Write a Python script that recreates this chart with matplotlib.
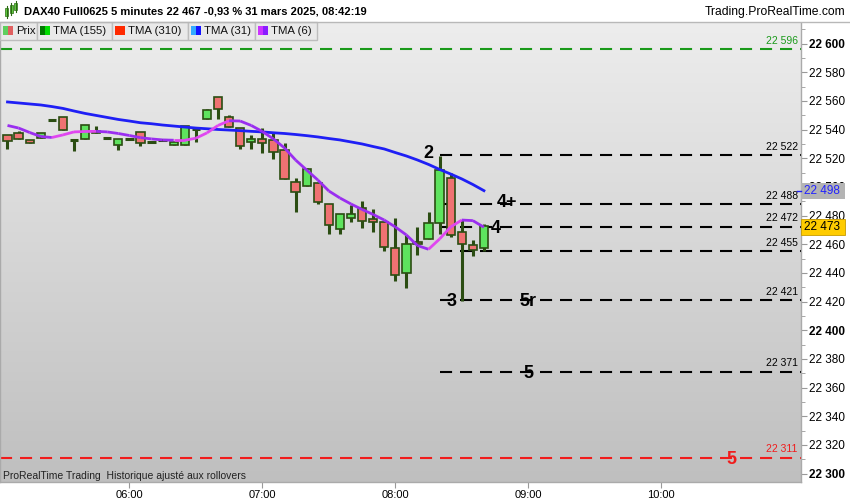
import numpy as np
import matplotlib
matplotlib.use("Agg")
import matplotlib.pyplot as plt
from matplotlib.collections import LineCollection
from matplotlib.colors import LinearSegmentedColormap
from matplotlib.patches import Rectangle
from matplotlib.ticker import MultipleLocator, FuncFormatter

plt.rcParams['font.family'] = ['Liberation Sans', 'DejaVu Sans']

# 5-minute candles from 05:05 to 08:40 (index 0 = 05:05)
opens = [22536, 22537.4, 22532.6, 22534, 22547, 22548.6, 22533, 22533.3, 22539.3, 22534.4,
         22529, 22533.7, 22538, 22531.6, 22532.8, 22529, 22529, 22540.7, 22547.2, 22562.6,
         22548.6, 22541.4, 22531.2, 22533.3, 22532.6, 22525.6, 22503.3, 22500.7, 22502.6, 22488,
         22470.5, 22478, 22485, 22477.6, 22475.5, 22457.2, 22439.8, 22461.8, 22463.5, 22474.6,
         22506, 22468.4, 22459.4, 22457.2]
highs = [22536.5, 22539, 22532.6, 22537.4, 22547, 22548.6, 22533, 22543, 22542.5, 22534.4,
         22533.3, 22533.7, 22538, 22531.6, 22532.8, 22531.2, 22542.3, 22540.7, 22554.2, 22562.6,
         22550.2, 22541.4, 22536.4, 22541.4, 22537.7, 22530.5, 22506, 22513, 22502.6, 22488,
         22481, 22487.5, 22490, 22484.5, 22475.5, 22478, 22466.3, 22471.9, 22482.4, 22521.6,
         22509.5, 22476.8, 22462.8, 22474]
lows = [22526.7, 22533.3, 22530.5, 22534, 22547, 22539.5, 22525.3, 22533.3, 22537.4, 22534.4,
        22526, 22533.7, 22528.8, 22531.6, 22532.8, 22529, 22529, 22531.2, 22547.2, 22547.2,
        22541.6, 22526.7, 22526.7, 22523.5, 22519.3, 22505.3, 22482.3, 22500.7, 22487.9, 22467,
        22467, 22475.5, 22471, 22468.8, 22455.1, 22434.6, 22429.7, 22452.5, 22463.5, 22467.4,
        22465, 22420.5, 22451.5, 22455.1]
closes = [22532.3, 22533.3, 22530.5, 22537.4, 22547, 22539.5, 22533, 22543, 22537.4, 22534.4,
          22533.3, 22533.7, 22531, 22531.6, 22532.8, 22531.2, 22542.3, 22540.7, 22553.5, 22554.2,
          22541.6, 22528.4, 22533.3, 22530.5, 22524.2, 22505.3, 22496.3, 22512.3, 22489.3, 22473.2,
          22481, 22481, 22476, 22475.3, 22457.9, 22438.4, 22460, 22460, 22474.6, 22511.5,
          22466.3, 22460, 22456, 22472.7]

tma31 = [22559.3, 22558.6, 22557.9, 22557.2, 22556.1, 22554.8, 22553.0, 22551.3, 22549.9, 22548.5,
         22547.1, 22546.0, 22544.8, 22544.1, 22543.2, 22542.5, 22541.8, 22541.1, 22540.6, 22540.1,
         22539.7, 22539.3, 22538.8, 22538.4, 22537.8, 22537.3, 22536.6, 22535.8, 22534.9, 22533.8,
         22532.8, 22531.4, 22530.0, 22528.2, 22526.5, 22524.0, 22521.6, 22518.8, 22515.7, 22512.2,
         22509.0, 22505.6, 22501.7, 22497.4]
tma6 = [22542.9, 22541.1, 22538.0, 22535.2, 22534.5, 22536.3, 22538.4, 22538.7, 22538.8, 22538.4,
        22537.3, 22535.9, 22534.4, 22533.5, 22532.8, 22532.6, 22532.6, 22534.0, 22537.7, 22542.9,
        22546.2, 22546.0, 22542.9, 22538.7, 22533.5, 22527.2, 22518.8, 22511.8, 22504.9, 22497.2,
        22492.3, 22488.1, 22484.3, 22480.8, 22476.9, 22472.1, 22466.5, 22459.1, 22456.5, 22463.7,
        22472.1, 22476.9, 22476.5, 22471.9]

# wave levels drawn from the "2" candle (index 39)
level_values = [22522, 22488, 22472, 22455, 22421, 22371]
level_names = ["2", "4+", "4", "", "3", "5"]
top_level = 22596
bottom_level = 22311

time_ticks = [11, 23, 35, 47, 59]
time_labels = ["06:00", "07:00", "08:00", "09:00", "10:00"]

W, H = 850, 500
fig = plt.figure(figsize=(8.5, 5), dpi=100)
fig.patch.set_facecolor("white")

px = 11.08  # pixels per candle
x0 = -7.5 / px
x1 = (801 - 7.5) / px
ytop, ybot = 22615.1, 22294.1
ax = fig.add_axes([0, (H - 482) / H, 801 / W, (482 - 22) / H])
ax.set_xlim(x0, x1)
ax.set_ylim(ybot, ytop)

# background gradient
cmap = LinearSegmentedColormap.from_list("bg", ["#bfbfbf", "#ededed"])
ax.imshow(np.linspace(0, 1, 256)[:, None], extent=[x0, x1, ybot, ytop],
          aspect="auto", cmap=cmap, origin="lower", zorder=0)

n = len(opens)
idx = np.arange(n)
green = "#5ee35e"
red = "#ef7272"
edge = "#2b4d12"
o = np.array(opens); c = np.array(closes)
ax.vlines(idx, lows, highs, color=edge, lw=2.2, zorder=3)
body = np.abs(c - o)
is_doji = body < 0.3
cols = [green if cc >= oo else red for oo, cc in zip(o, c)]
ax.bar(idx[~is_doji], body[~is_doji], bottom=np.minimum(o, c)[~is_doji], width=0.75,
       color=np.array(cols)[~is_doji], edgecolor=edge, linewidth=1.2, zorder=4)
ax.hlines(o[is_doji], idx[is_doji] - 0.375, idx[is_doji] + 0.375, color=edge, lw=2.2, zorder=4)

# moving averages
ax.plot(idx, tma31, color="#1f1ff5", lw=2.0, zorder=5)
pts = np.column_stack([idx, tma6])
segs = np.stack([pts[:-1], pts[1:]], axis=1)
seg_cols = ["#e046f0" if b >= a else "#9a2ef0" for a, b in zip(tma6[:-1], tma6[1:])]
ax.add_collection(LineCollection(segs, colors=seg_cols, linewidths=2.0, zorder=5))

# horizontal levels
dash = (5.8, 3.8)
ax.axhline(top_level, color="#1a9a1a", lw=1.5, dashes=dash, zorder=2)
ax.axhline(bottom_level, color="#f01c1c", lw=1.5, dashes=dash, zorder=2)
ax.text(x1 - 0.3, top_level + 2.5, "22 596", color="#1a9a1a", fontsize=7.5, ha="right", va="bottom")
ax.text(x1 - 0.3, bottom_level + 2.5, "22 311", color="#f01c1c", fontsize=7.5, ha="right", va="bottom")
ax.text(65.3, bottom_level - 1, "5", color="#f01c1c", fontsize=13, fontweight="bold", ha="center", va="center")
for v in level_values:
    ax.hlines(v, 39, x1, color="black", lw=1.5, linestyles=[(0, dash)], zorder=2)
    ax.text(x1 - 0.3, v + 2.5, f"{v // 1000} {v % 1000:03d}", color="black", fontsize=7.5,
            ha="right", va="bottom")
name_pos = {"2": (38.0, 22523), "4+": (45.1, 22489), "4": (44.1, 22471),
            "3": (40.1, 22420), "5": (47.0, 22370)}
for v, name in zip(level_values, level_names):
    if name:
        xx, yy = name_pos[name]
        ax.text(xx, yy, name, fontsize=13, fontweight="bold", ha="center", va="center", zorder=6)
ax.text(47.0, 22420, "5r", fontsize=13, fontweight="bold", ha="center", va="center", zorder=6)

ax.text(x0 + 0.3, ybot + 0.8, "ProRealTime Trading  Historique ajusté aux rollovers",
        fontsize=7.5, color="#222222", ha="left", va="bottom")

# axes styling
ax.yaxis.tick_right()
ax.yaxis.set_major_locator(MultipleLocator(20))
ax.yaxis.set_minor_locator(MultipleLocator(10))
ax.yaxis.set_major_formatter(FuncFormatter(lambda v, p: f"{int(v) // 1000} {int(v) % 1000:03d}"))
ax.tick_params(axis="y", which="major", length=4, color="#999999", labelsize=8.5, pad=2)
ax.tick_params(axis="y", which="minor", length=3, color="#999999")
ax.set_xticks(time_ticks)
ax.set_xticklabels(time_labels)
ax.tick_params(axis="x", length=4, color="#999999", labelsize=8, pad=1.5)
for s in ax.spines.values():
    s.set_color("#aaaaaa")
    s.set_linewidth(1)
ax.spines["top"].set_visible(False)
fig.canvas.draw()
for lab in ax.get_yticklabels():
    try:
        val = float(lab.get_text().replace(" ", "").replace("\u2212", "-"))
    except ValueError:
        continue
    if val % 100 == 0:
        lab.set_fontweight("bold")

# overlay in pixel coordinates for header, legend and price tags
ov = fig.add_axes([0, 0, 1, 1], zorder=10)
ov.set_xlim(0, W)
ov.set_ylim(H, 0)
ov.axis("off")
ov.add_patch(Rectangle((0, 0), W, 21.5, facecolor="white", edgecolor="none"))
ov.plot([0, W], [21.5, 21.5], color="#b8b8b8", lw=1)
ov.text(24, 11.5, "DAX40 Full0625 5 minutes 22 467 -0,93 % 31 mars 2025, 08:42:19",
        fontsize=8, fontweight="bold", ha="left", va="center")
ov.text(845, 11.5, "Trading.ProRealTime.com", fontsize=8.7, ha="right", va="center")
# tiny candle icon
for xx, y_a, y_b in [(7, 8, 16), (11.5, 5, 13), (16, 3, 10)]:
    ov.plot([xx, xx], [y_a - 2, y_b + 2], color="#2b6b12", lw=0.8)
    ov.add_patch(Rectangle((xx - 1.5, y_a), 3, y_b - y_a, facecolor="#5ecf3e", edgecolor="#2b6b12", lw=0.5))

legend_items = [("Prix", 0, 37.3, ["#5ecf5e", "#e06060"]),
                ("TMA (155)", 37.3, 112.3, ["#007a00", "#00dd00"]),
                ("TMA (310)", 112.3, 187.7, ["#ff2a00", "#ff2a00"]),
                ("TMA (31)", 187.7, 255, ["#33aaff", "#1414ff"]),
                ("TMA (6)", 255, 316.7, ["#cc33ff", "#8a1cff"])]
for name, xa, xb, icols in legend_items:
    ov.add_patch(Rectangle((xa, 22), xb - xa, 17.5, facecolor="#e9e9e9", edgecolor="#bdbdbd", lw=1))
    ov.add_patch(Rectangle((xa + 3, 25.7), 5, 9.6, facecolor=icols[0], edgecolor="none"))
    ov.add_patch(Rectangle((xa + 8, 25.7), 5, 9.6, facecolor=icols[1], edgecolor="none"))
    ov.text(xa + 16, 31, name, fontsize=8.2, ha="left", va="center", color="#111111")

# last-value tags on the price scale
ov.add_patch(Rectangle((801.5, 183), 44, 16, facecolor="#b4b4b4", edgecolor="none"))
ov.plot([797, 801.5], [191, 191], color="#1f1ff5", lw=1)
ov.text(804, 191.5, "22 498", fontsize=8.5, color="#2222ff", ha="left", va="center")
ov.add_patch(Rectangle((801.5, 219), 44, 16, facecolor="#ffcc00", edgecolor="#c89b00", lw=0.6))
ov.text(804, 227.5, "22 473", fontsize=8.5, color="black", ha="left", va="center")

fig.savefig("out.png", dpi=100)
